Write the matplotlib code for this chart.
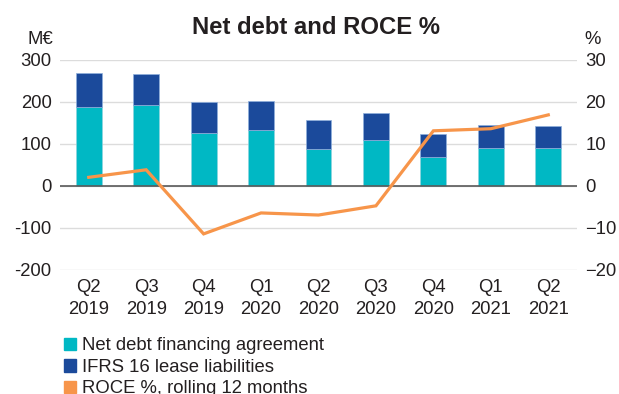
import numpy as np
import matplotlib.pyplot as plt
from matplotlib.patches import Patch

plt.rcParams['font.family'] = ['Liberation Sans', 'DejaVu Sans']

# Quarterly figures
quarters = ["Q2\n2019", "Q3\n2019", "Q4\n2019", "Q1\n2020", "Q2\n2020",
            "Q3\n2020", "Q4\n2020", "Q1\n2021", "Q2\n2021"]
net_debt = [189, 193, 125, 133, 87, 109, 68, 91, 91]
lease_liab = [81, 74, 75, 70, 70, 64, 56, 54, 52]
roce = [2.0, 3.8, -11.5, -6.5, -7.0, -4.8, 13.1, 13.6, 16.9]

teal = '#00B8C4'
navy = '#1B4A9B'
orange = '#F7954A'
txt = '#231F20'
fs = 13.3

fig = plt.figure(figsize=(6.19, 3.94), dpi=100)
ax = fig.add_axes([60 / 619, 1 - 269.5 / 394, 517 / 619, 209.5 / 394])

x = np.arange(len(quarters))
ax.bar(x, net_debt, width=0.45, color=teal, edgecolor='#8fd3dd', linewidth=0.5, zorder=2)
ax.bar(x, lease_liab, bottom=net_debt, width=0.45, color=navy, edgecolor='#8fb0dd',
       linewidth=0.5, zorder=2)

ax.set_xlim(-0.5, len(quarters) - 0.5)
ax.set_ylim(-200, 300)
ax.set_yticks([-200, -100, 0, 100, 200, 300])
ax.set_yticklabels(['-200', '-100', '0', '100', '200', '300'])
ax.set_xticks(x)
ax.set_xticklabels(quarters, linespacing=1.33)
ax.tick_params(axis='both', length=0, labelsize=fs, colors=txt)
ax.tick_params(axis='y', pad=6)
ax.tick_params(axis='x', pad=7)
ax.grid(axis='y', color='#dcdcdc', linewidth=1.0, zorder=0)
ax.axhline(0, color='#5a5a5a', linewidth=1.2, zorder=3)
for s in ax.spines.values():
    s.set_visible(False)

# ROCE on the secondary axis
ax2 = ax.twinx()
ax2.plot(x, roce, color=orange, linewidth=2.3, zorder=4, solid_joinstyle='miter')
ax2.set_ylim(-20, 30)
ax2.set_yticks([-20, -10, 0, 10, 20, 30])
ax2.tick_params(axis='y', length=0, labelsize=fs, colors=txt, pad=6)
for s in ax2.spines.values():
    s.set_visible(False)

fig.text(315.5 / 619, 1 - 27 / 394, 'Net debt and ROCE %', ha='center', va='center',
         fontsize=17.2, fontweight='bold', color=txt)
fig.text(40 / 619, 1 - 39 / 394, 'M€', ha='center', va='center', fontsize=fs, color=txt)
fig.text(593 / 619, 1 - 39 / 394, '%', ha='center', va='center', fontsize=fs, color=txt)

handles = [Patch(color=teal), Patch(color=navy), Patch(color=orange)]
labels = ['Net debt financing agreement', 'IFRS 16 lease liabilities',
          'ROCE %, rolling 12 months']
fig.legend(handles, labels, loc='upper left', bbox_to_anchor=(64 / 619, 1 - 337.5 / 394),
           frameon=False, fontsize=fs, handlelength=0.66, handleheight=0.66,
           handletextpad=0.3, labelspacing=0.24, borderpad=0, borderaxespad=0,
           labelcolor=txt)

fig.savefig('out.png', dpi=100)
